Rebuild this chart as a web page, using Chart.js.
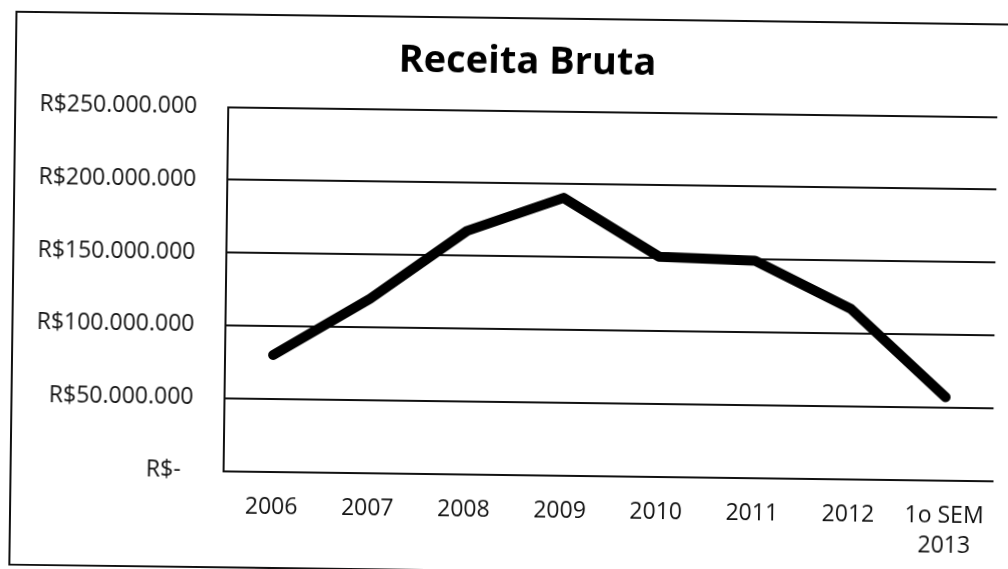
<!DOCTYPE html>
<html>
<head>
<meta charset="utf-8">
<script src="https://cdn.jsdelivr.net/npm/chart.js@4.4.0/dist/chart.umd.min.js"></script>
<style>
  html, body { margin: 0; padding: 0; background: #fff; overflow: hidden; }
  #wrap { position: relative; width: 1008px; height: 569px; background: #fff;
          transform: rotate(0.74deg); transform-origin: 504px 284.5px; }
  #frame { position: absolute; left: 12px; top: 17px; width: 1040px; height: 555px;
           border: 2px solid #111; box-sizing: border-box; }
  #c { position: absolute; left: 0; top: 0; }
</style>
</head>
<body>
<div id="wrap">
  <div id="frame"></div>
  <canvas id="c" width="1008" height="569"></canvas>
</div>
<script>
const titleText = 'Receita Bruta';
const categories = ['2006', '2007', '2008', '2009', '2010', '2011', '2012', ['1o SEM', '2013']];
const receitaBruta = [80000000, 119500000, 167000000, 190500000, 151000000, 149000000, 117000000, 57000000];
const yMin = 0;
const yMax = 250000000;
const yStep = 50000000;

function fmtBRL(v) {
  if (v === 0) return 'R$-  ';
  return 'R$' + String(Math.round(v)).replace(/\B(?=(\d{3})+(?!\d))/g, '.');
}

const FONT = "'Open Sans', 'DejaVu Sans', sans-serif";

const titlePlugin = {
  id: 'frameTitle',
  afterDraw(chart) {
    const ctx = chart.ctx;
    ctx.save();
    ctx.font = "bold 38px " + FONT;
    ctx.fillStyle = '#000';
    ctx.textAlign = 'center';
    ctx.textBaseline = 'middle';
    ctx.fillText(titleText, 524.6, 62.5);
    ctx.restore();
  }
};

new Chart(document.getElementById('c'), {
  type: 'line',
  data: {
    labels: categories,
    datasets: [{
      data: receitaBruta,
      borderColor: '#000',
      borderWidth: 10,
      pointRadius: 0,
      tension: 0,
      borderCapStyle: 'round',
      borderJoinStyle: 'round',
      fill: false
    }]
  },
  plugins: [titlePlugin],
  options: {
    responsive: false,
    animation: false,
    layout: { padding: { left: 0, right: 7, top: 110.5, bottom: 0 } },
    plugins: {
      legend: { display: false },
      tooltip: { enabled: false },
      title: { display: false }
    },
    scales: {
      x: {
        offset: true,
        grid: { display: false, drawTicks: false },
        border: { display: true, color: '#111', width: 2 },
        ticks: {
          color: '#111',
          padding: 21,
          maxRotation: 0,
          autoSkip: false,
          font: { family: FONT, size: 23, lineHeight: 1.3 }
        },
        afterFit(scale) { scale.height = 94.5; }
      },
      y: {
        min: yMin,
        max: yMax,
        grid: { color: '#111', lineWidth: 2, drawTicks: false },
        border: { display: true, color: '#111', width: 2 },
        ticks: {
          stepSize: yStep,
          color: '#111',
          padding: 31,
          font: { family: FONT, size: 23 },
          callback: (v) => fmtBRL(v)
        },
        afterFit(scale) { scale.width = 226; }
      }
    }
  }
});
</script>
</body>
</html>
